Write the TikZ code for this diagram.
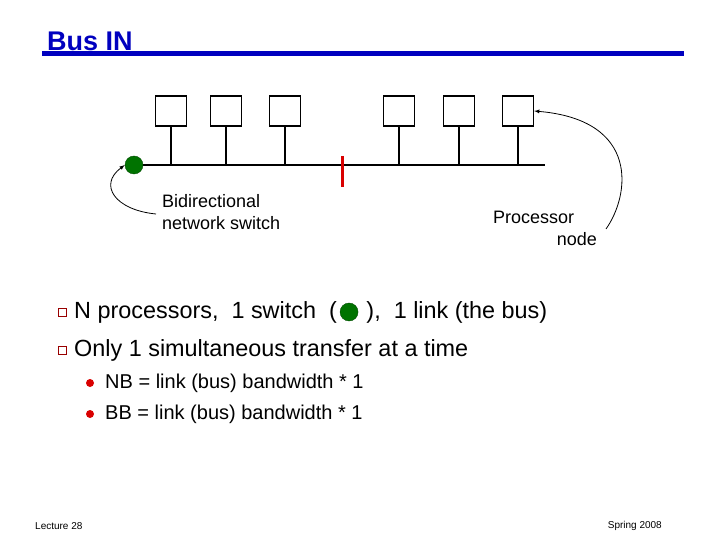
\documentclass[tikz,border=0pt]{standalone}
\usepackage{fontspec}
\setmainfont{Liberation Sans}
\begin{document}
\begin{tikzpicture}[x=1pt,y=-1pt,
  proc/.style={draw,line width=1.3pt,minimum width=31pt,minimum height=30pt,inner sep=0pt},
  sw/.style={circle,draw=black!70!green,fill=green!45!black,minimum size=18pt,inner sep=0pt},
  lbl/.style={font=\fontsize{18}{22}\selectfont,inner sep=0pt},
  btxt/.style={font=\fontsize{23.4}{26}\selectfont,anchor=west,inner sep=0pt},
  stxt/.style={font=\fontsize{20}{22}\selectfont,anchor=west,inner sep=0pt},
  sq/.style={draw=red!60!black,thick,minimum size=8pt,inner sep=0pt},
  dot/.style={circle,fill=red!85!black,minimum size=8pt,inner sep=0pt}]
\useasboundingbox (0,0) rectangle (720,540);
\node[font=\fontsize{27}{30}\selectfont\bfseries,text=blue!75!black,anchor=west,inner sep=0pt] (title) at (47,41) {Bus IN};
\fill[blue!75!black] (42,51) rectangle (684,56);
\coordinate (bl) at (140,165);
\coordinate (br) at (545,165);
\draw[line width=1.3pt] (bl) -- (br);
\foreach \n/\x in {a/171,b/226,c/285,d/399,e/459,f/518}{
  \node[proc] (\n) at (\x,111) {};
  \draw[line width=1.3pt] (\n.south) -- (\x,165);
}
\node[sw] (s) at (134,165) {};
\draw[red!85!black,line width=3pt] (342,156) -- (342,187);
\node[lbl,align=left,anchor=north west] (bt) at (162,194) {Bidirectional\\network switch};
\node[lbl,anchor=west] (pt) at (493,217) {Processor};
\node[lbl,anchor=east] (nt) at (597,239) {node};
\draw[thick,-latex] (156,214) .. controls (115,210) and (98,185) .. (s.west);
\draw[thick,-latex] (606,229) .. controls (630,195) and (640,120) .. (f.east);
\node[sq] (q1) at (62,312) {};
\node[btxt] (t1) at (74,312) {N processors,\ \ 1 switch\ \ (};
\node[sw] (s2) at ([xshift=12pt]t1.east) {};
\node[btxt] (t1b) at ([xshift=8pt]s2.east) {),\ \ 1 link (the bus)};
\node[sq] (q2) at (62,350) {};
\node[btxt] (t2) at (74,350) {Only 1 simultaneous transfer at a time};
\node[dot] (d1) at (90,383) {};
\node[stxt] (u1) at (105,383) {NB = link (bus) bandwidth * 1};
\node[dot] (d2) at (90,414) {};
\node[stxt] (u2) at (105,414) {BB = link (bus) bandwidth * 1};
\node[font=\fontsize{10}{11}\selectfont,anchor=west,inner sep=0pt] (l) at (35,526) {Lecture 28};
\node[font=\fontsize{10}{11}\selectfont,anchor=east,inner sep=0pt] (r) at (662,526) {Spring 2008};
\end{tikzpicture}
\end{document}
